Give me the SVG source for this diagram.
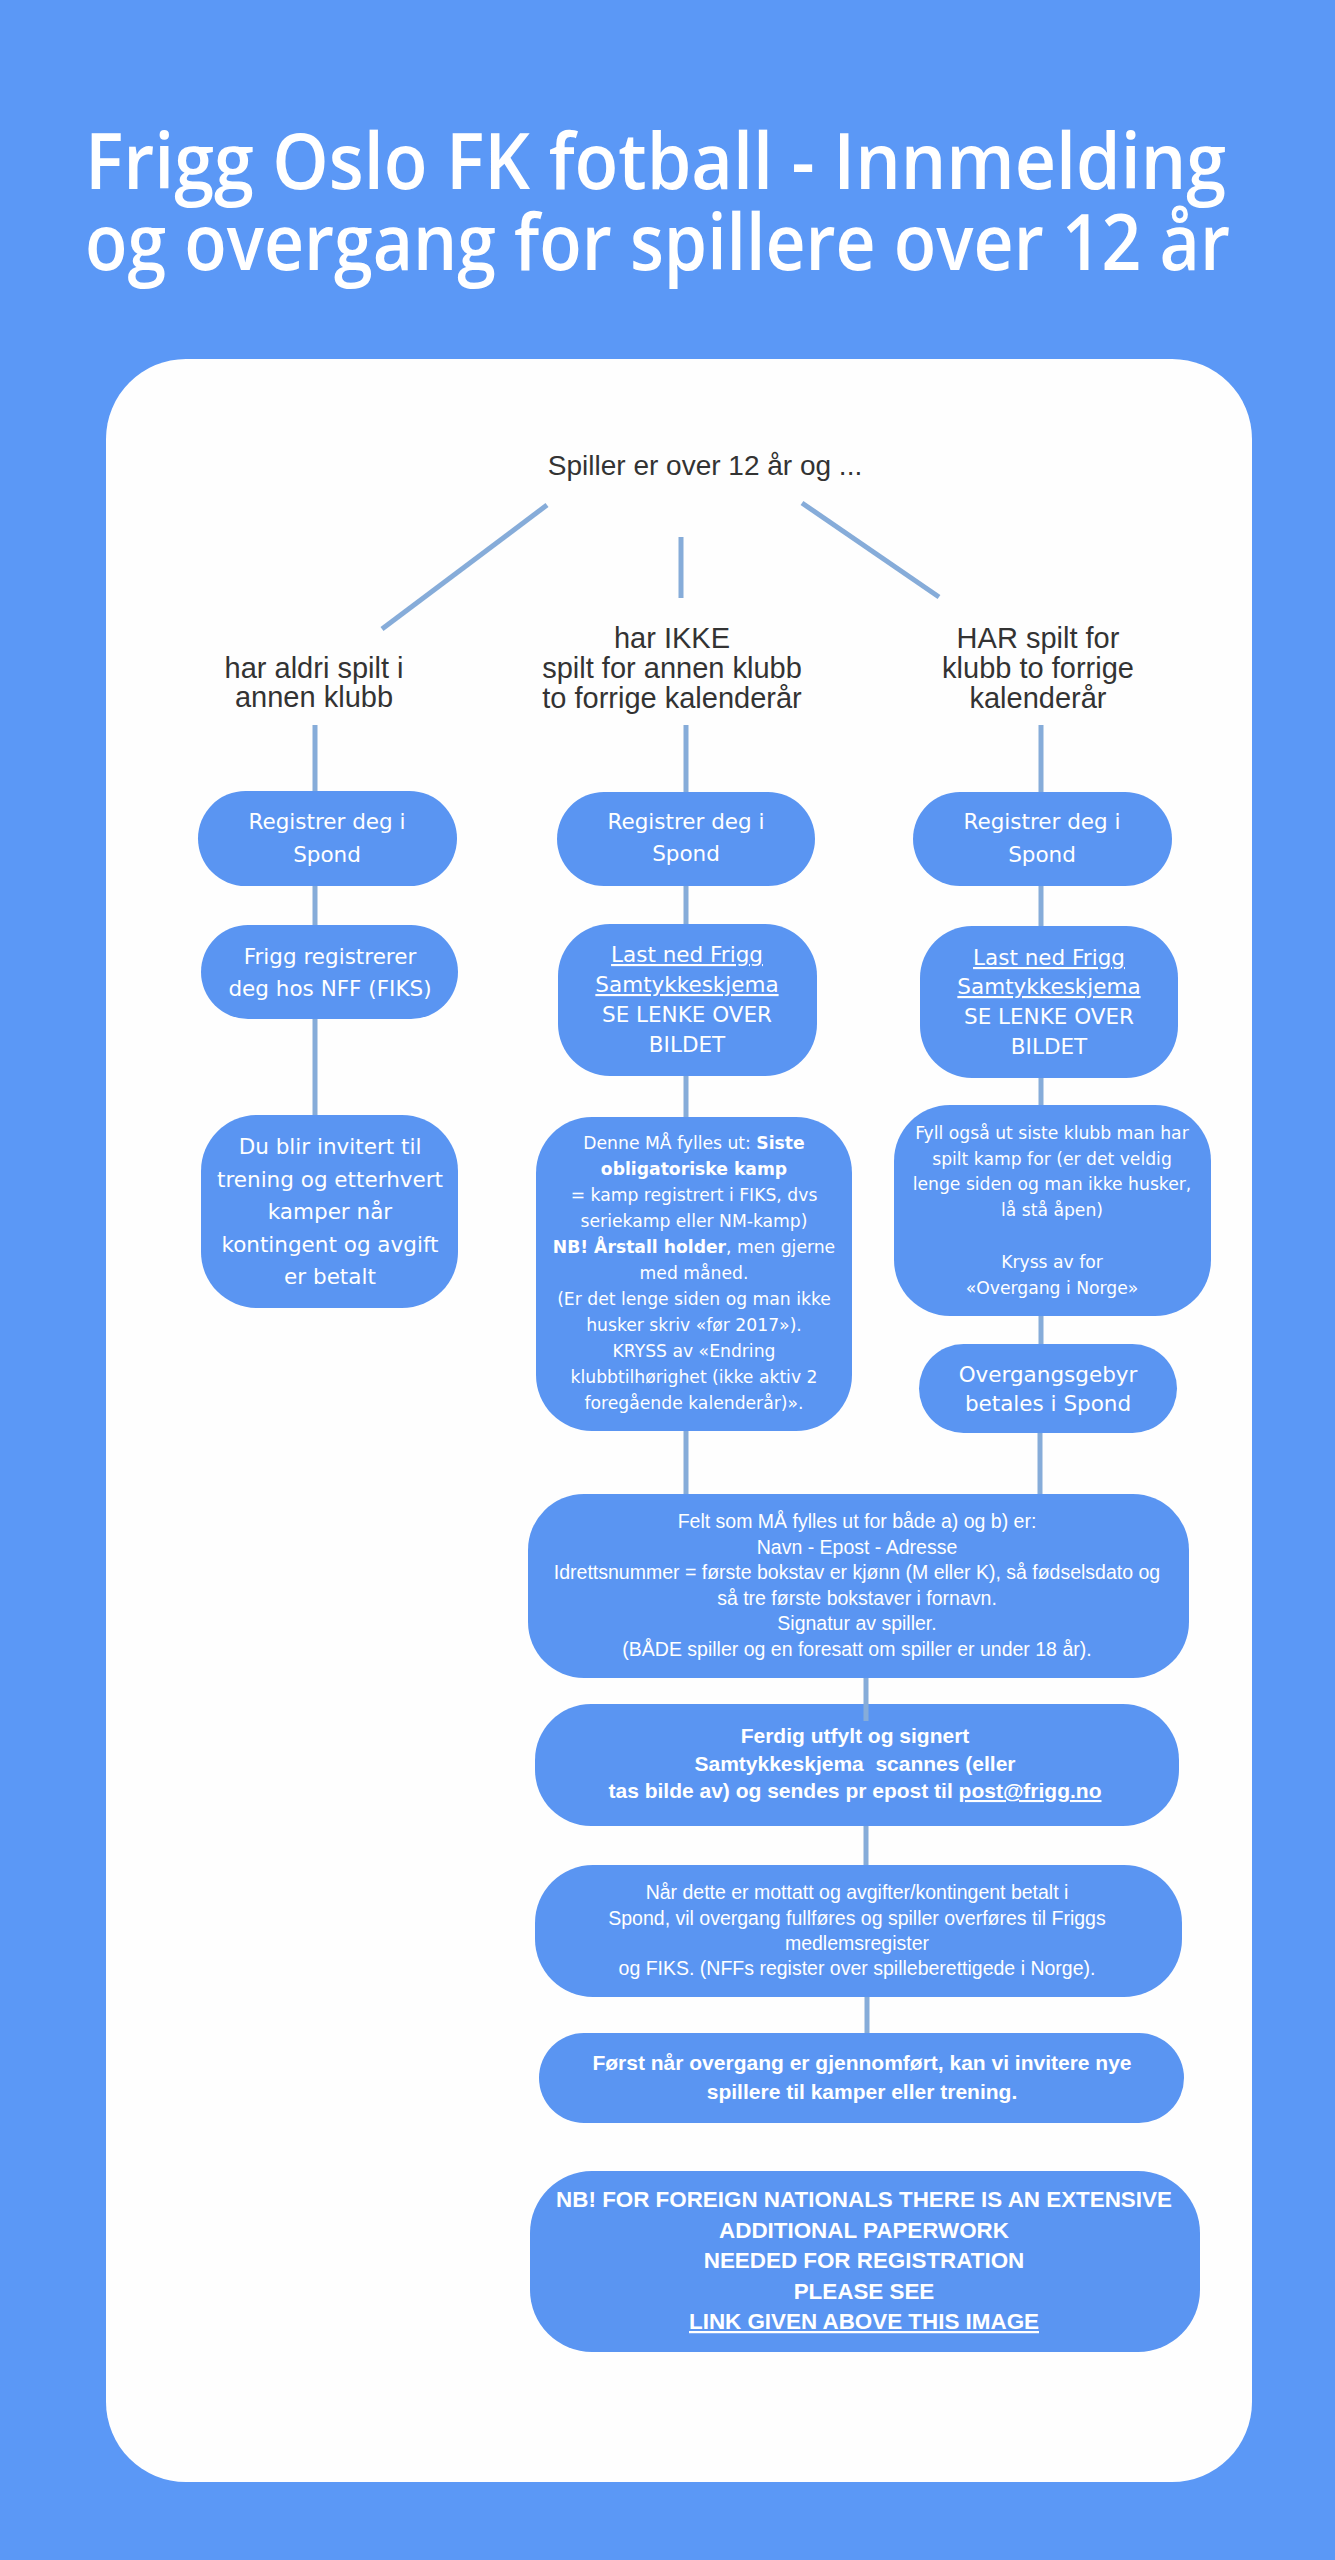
<svg xmlns="http://www.w3.org/2000/svg" width="1335" height="2560" viewBox="0 0 1335 2560">
<style>
.title{font-family:"Open Sans","Lato",sans-serif;font-weight:600;font-size:78px;fill:#ffffff}
.dark{font-family:"Liberation Sans",Arial,sans-serif;fill:#333333;text-anchor:middle}
.box{fill:#5a95f2}
.bt{font-family:"DejaVu Sans",sans-serif;fill:#ffffff;text-anchor:middle;font-size:21.5px}
.bs{font-family:"DejaVu Sans",sans-serif;fill:#ffffff;text-anchor:middle;font-size:17.2px}
.ct{font-family:"Liberation Sans",Arial,sans-serif;fill:#ffffff;text-anchor:middle;font-size:19.5px}
.cb{font-family:"Liberation Sans",Arial,sans-serif;fill:#ffffff;text-anchor:middle;font-size:21px;font-weight:bold}
.nb{font-size:22.4px}
.u{text-decoration:underline}
.b{font-weight:bold}
.conn line{stroke:#86acd9;stroke-width:5;stroke-linecap:butt}
</style>
<rect x="0" y="0" width="1335" height="2560" fill="#5b98f6"/>
<g id="title">
<text class="title" x="85" y="189" textLength="1141" lengthAdjust="spacingAndGlyphs">Frigg Oslo FK fotball - Innmelding</text>
<text class="title" x="85" y="270" textLength="1145" lengthAdjust="spacingAndGlyphs">og overgang for spillere over 12 år</text>
</g>
<rect id="panel" x="106" y="359" width="1146" height="2123" rx="80" ry="80" fill="#fefefe"/>
<g id="start">
<text class="dark" x="705" y="475" font-size="28">Spiller er over 12 år og ...</text>
</g>
<g id="label-a">
<text class="dark" x="314" y="678" font-size="29">har aldri spilt i</text>
<text class="dark" x="314" y="707" font-size="29">annen klubb</text>
</g>
<g id="label-b">
<text class="dark" x="672" y="648" font-size="29">har IKKE</text>
<text class="dark" x="672" y="678" font-size="29">spilt for annen klubb</text>
<text class="dark" x="672" y="708" font-size="29">to forrige kalenderår</text>
</g>
<g id="label-c">
<text class="dark" x="1038" y="648" font-size="29">HAR spilt for</text>
<text class="dark" x="1038" y="678" font-size="29">klubb to forrige</text>
<text class="dark" x="1038" y="708" font-size="29">kalenderår</text>
</g>
<g id="a1">
<rect class="box" x="198" y="791" width="259" height="95" rx="47.5"/>
<text class="bt" x="327" y="829">Registrer deg i</text>
<text class="bt" x="327" y="862">Spond</text>
</g>
<g id="a2">
<rect class="box" x="201" y="925" width="257" height="94" rx="47"/>
<text class="bt" x="330" y="964">Frigg registrerer</text>
<text class="bt" x="330" y="996">deg hos NFF (FIKS)</text>
</g>
<g id="a3">
<rect class="box" x="201" y="1115" width="257" height="193" rx="56"/>
<text class="bt" x="330" y="1154">Du blir invitert til</text>
<text class="bt" x="330" y="1186.5">trening og etterhvert</text>
<text class="bt" x="330" y="1219">kamper når</text>
<text class="bt" x="330" y="1251.5">kontingent og avgift</text>
<text class="bt" x="330" y="1284">er betalt</text>
</g>
<g id="b1">
<rect class="box" x="557" y="792" width="258" height="94" rx="47"/>
<text class="bt" x="686" y="829">Registrer deg i</text>
<text class="bt" x="686" y="861">Spond</text>
</g>
<g id="b2">
<rect class="box" x="558" y="924" width="259" height="152" rx="52"/>
<text class="bt u" x="687" y="962">Last ned Frigg</text>
<text class="bt u" x="687" y="992">Samtykkeskjema</text>
<text class="bt" x="687" y="1022">SE LENKE OVER</text>
<text class="bt" x="687" y="1052">BILDET</text>
</g>
<g id="b3">
<rect class="box" x="536" y="1117" width="316" height="314" rx="56"/>
<text class="bs" x="694" y="1149">Denne MÅ fylles ut: <tspan class="b">Siste</tspan></text>
<text class="bs b" x="694" y="1175">obligatoriske kamp</text>
<text class="bs" x="694" y="1201">= kamp registrert i FIKS, dvs</text>
<text class="bs" x="694" y="1227">seriekamp eller NM-kamp)</text>
<text class="bs" x="694" y="1253"><tspan class="b">NB! Årstall holder</tspan>, men gjerne</text>
<text class="bs" x="694" y="1279">med måned.</text>
<text class="bs" x="694" y="1305">(Er det lenge siden og man ikke</text>
<text class="bs" x="694" y="1331">husker skriv «før 2017»).</text>
<text class="bs" x="694" y="1357">KRYSS av «Endring</text>
<text class="bs" x="694" y="1383">klubbtilhørighet (ikke aktiv 2</text>
<text class="bs" x="694" y="1409">foregående kalenderår)».</text>
</g>
<g id="c1">
<rect class="box" x="913" y="792" width="259" height="94" rx="47"/>
<text class="bt" x="1042" y="829">Registrer deg i</text>
<text class="bt" x="1042" y="862">Spond</text>
</g>
<g id="c2">
<rect class="box" x="920" y="926" width="258" height="152" rx="52"/>
<text class="bt u" x="1049" y="965">Last ned Frigg</text>
<text class="bt u" x="1049" y="994">Samtykkeskjema</text>
<text class="bt" x="1049" y="1024">SE LENKE OVER</text>
<text class="bt" x="1049" y="1054">BILDET</text>
</g>
<g id="c3">
<rect class="box" x="894" y="1105" width="317" height="211" rx="56"/>
<text class="bs" x="1052" y="1139">Fyll også ut siste klubb man har</text>
<text class="bs" x="1052" y="1165">spilt kamp for (er det veldig</text>
<text class="bs" x="1052" y="1190">lenge siden og man ikke husker,</text>
<text class="bs" x="1052" y="1216">lå stå åpen)</text>
<text class="bs" x="1052" y="1268">Kryss av for</text>
<text class="bs" x="1052" y="1294">«Overgang i Norge»</text>
</g>
<g id="c4">
<rect class="box" x="919" y="1344" width="258" height="89" rx="44.5"/>
<text class="bt" x="1048" y="1382">Overgangsgebyr</text>
<text class="bt" x="1048" y="1411">betales i Spond</text>
</g>
<g id="felt">
<rect class="box" x="528" y="1494" width="661" height="184" rx="56"/>
<text class="ct" x="857" y="1528">Felt som MÅ fylles ut for både a) og b) er:</text>
<text class="ct" x="857" y="1553.5">Navn - Epost - Adresse</text>
<text class="ct" x="857" y="1579">Idrettsnummer = første bokstav er kjønn (M eller K), så fødselsdato og</text>
<text class="ct" x="857" y="1604.5">så tre første bokstaver i fornavn.</text>
<text class="ct" x="857" y="1630">Signatur av spiller.</text>
<text class="ct" x="857" y="1655.5">(BÅDE spiller og en foresatt om spiller er under 18 år).</text>
</g>
<g id="ferdig">
<rect class="box" x="535" y="1704" width="644" height="122" rx="56"/>
<text class="cb" x="855" y="1743">Ferdig utfylt og signert</text>
<text class="cb" x="855" y="1771">Samtykkeskjema&#160; scannes (eller</text>
<text class="cb" x="855" y="1798">tas bilde av) og sendes pr epost til <tspan class="u">post@frigg.no</tspan></text>
</g>
<g id="naar">
<rect class="box" x="535" y="1865" width="647" height="132" rx="58"/>
<text class="ct" x="857" y="1899">Når dette er mottatt og avgifter/kontingent betalt i</text>
<text class="ct" x="857" y="1925">Spond, vil overgang fullføres og spiller overføres til Friggs</text>
<text class="ct" x="857" y="1950">medlemsregister</text>
<text class="ct" x="857" y="1975">og FIKS. (NFFs register over spilleberettigede i Norge).</text>
</g>
<g id="forst">
<rect class="box" x="539" y="2033" width="645" height="90" rx="45"/>
<text class="cb" x="862" y="2070">Først når overgang er gjennomført, kan vi invitere nye</text>
<text class="cb" x="862" y="2099">spillere til kamper eller trening.</text>
</g>
<g id="nb">
<rect class="box" x="530" y="2171" width="670" height="181" rx="62"/>
<text class="cb nb" x="864" y="2207">NB! FOR FOREIGN NATIONALS THERE IS AN EXTENSIVE</text>
<text class="cb nb" x="864" y="2238">ADDITIONAL PAPERWORK</text>
<text class="cb nb" x="864" y="2268">NEEDED FOR REGISTRATION</text>
<text class="cb nb" x="864" y="2299">PLEASE SEE</text>
<text class="cb nb u" x="864" y="2329">LINK GIVEN ABOVE THIS IMAGE</text>
</g>
<g id="connectors" class="conn">
<line x1="547" y1="505" x2="382" y2="629"/>
<line x1="681" y1="537" x2="681" y2="598"/>
<line x1="802" y1="503" x2="939" y2="597"/>
<line x1="315" y1="725" x2="315" y2="791"/>
<line x1="315" y1="886" x2="315" y2="925"/>
<line x1="315" y1="1019" x2="315" y2="1115"/>
<line x1="686" y1="725" x2="686" y2="792"/>
<line x1="686" y1="886" x2="686" y2="924"/>
<line x1="686" y1="1076" x2="686" y2="1117"/>
<line x1="686" y1="1431" x2="686" y2="1494"/>
<line x1="1041" y1="725" x2="1041" y2="792"/>
<line x1="1041" y1="886" x2="1041" y2="926"/>
<line x1="1041" y1="1078" x2="1041" y2="1105"/>
<line x1="1041" y1="1316" x2="1041" y2="1344"/>
<line x1="1040" y1="1433" x2="1040" y2="1494"/>
<line x1="866" y1="1678" x2="866" y2="1721"/>
<line x1="866" y1="1826" x2="866" y2="1865"/>
<line x1="867" y1="1997" x2="867" y2="2033"/>
</g>
</svg>
